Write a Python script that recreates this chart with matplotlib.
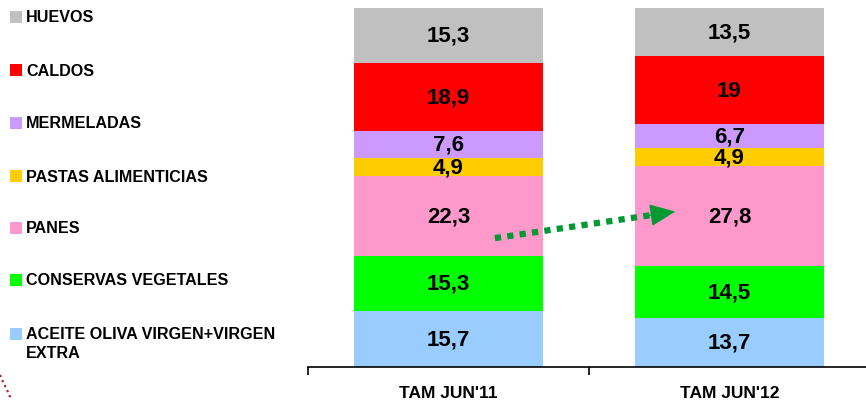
import numpy as np
import matplotlib
matplotlib.use("Agg")
from matplotlib import pyplot as plt
from matplotlib.patches import Rectangle
from matplotlib.lines import Line2D

plt.rcParams['font.family'] = ['Liberation Sans', 'DejaVu Sans']

periods = ["TAM JUN'11", "TAM JUN'12"]
# segments from bottom to top
categories = ["ACEITE OLIVA VIRGEN+VIRGEN\nEXTRA", "CONSERVAS VEGETALES", "PANES",
              "PASTAS ALIMENTICIAS", "MERMELADAS", "CALDOS", "HUEVOS"]
jun11 = [15.7, 15.3, 22.3, 4.9, 7.6, 18.9, 15.3]
jun12 = [13.7, 14.5, 27.8, 4.9, 6.7, 19, 13.5]
colors = ["#99CCFF", "#00FF00", "#FF99CC", "#FFCC00", "#CC99FF", "#FF0000", "#C0C0C0"]

W, H = 866, 402
fig = plt.figure(figsize=(8.66, 4.02), dpi=100)
ax = fig.add_axes([308 / W, (H - 368) / H, 562 / W, (368 - 9) / H])

x = np.arange(len(periods))
values = np.array([jun11, jun12]).T
bottom = np.zeros(len(periods))
for vals, col in zip(values, colors):
    ax.bar(x, vals, width=0.676, bottom=bottom, color=col, edgecolor="none", clip_on=False)
    for xi, b, v in zip(x, bottom, vals):
        txt = ("%g" % v).replace(".", ",")
        ax.text(xi, b + v / 2, txt, ha="center", va="center", fontsize=16, fontweight="bold")
    bottom += vals

ax.set_xlim(-0.5, 1.5)
ax.set_ylim(0, 100)
for s in ["top", "right", "left"]:
    ax.spines[s].set_visible(False)
ax.spines["bottom"].set_linewidth(1.2)
ax.set_yticks([])
ax.set_xticks([-0.5, 0.5, 1.5])
ax.set_xticklabels([])
ax.set_xticks(x, minor=True)
ax.set_xticklabels(periods, minor=True, fontsize=12.5, fontweight="bold")
ax.tick_params(axis="x", which="major", length=6, width=1.2, direction="out")
ax.tick_params(axis="x", which="minor", length=0, pad=13)

# dotted trend arrow between the PANES segments
x0, y0, x1, y1 = 0.165, 35.9, 0.807, 43.3
t = 0.88
ax.plot([x0, x0 + t * (x1 - x0)], [y0, y0 + t * (y1 - y0)], color="#009933", lw=4.5,
        linestyle=(0, (1, 1)), dash_capstyle="butt", clip_on=False)
ax.annotate("", xy=(x1, y1), xytext=(x0 + 0.84 * (x1 - x0), y0 + 0.84 * (y1 - y0)),
            arrowprops=dict(arrowstyle="-|>,head_length=1.6,head_width=0.7",
                            color="#009933", lw=1, shrinkA=0, shrinkB=0),
            annotation_clip=False)

# legend on the left, top to bottom
rows = [18, 71, 124, 177, 229, 281, 335]
for yc, lab, col in zip(rows, categories[::-1], colors[::-1]):
    fig.patches.append(Rectangle((10 / W, (H - yc - 6) / H), 12 / W, 12 / H,
                                 transform=fig.transFigure, facecolor=col, edgecolor="none"))
    if "\n" in lab:
        fig.text(26 / W, (H - yc + 8) / H, lab, ha="left", va="top",
                 fontsize=11.6, fontweight="bold", linespacing=1.35)
    else:
        fig.text(26 / W, (H - yc) / H, lab, ha="left", va="center",
                 fontsize=11.6, fontweight="bold")

# small dotted curve in the lower-left corner
fig.lines.append(Line2D([0 / W, 4 / W, 8 / W, 11 / W], [(H - 376) / H, (H - 385) / H, (H - 393) / H, (H - 400) / H],
                        transform=fig.transFigure, color="#A52A2A", lw=1.6, linestyle=(0, (1, 1.5))))

fig.savefig("out.png", dpi=100)
